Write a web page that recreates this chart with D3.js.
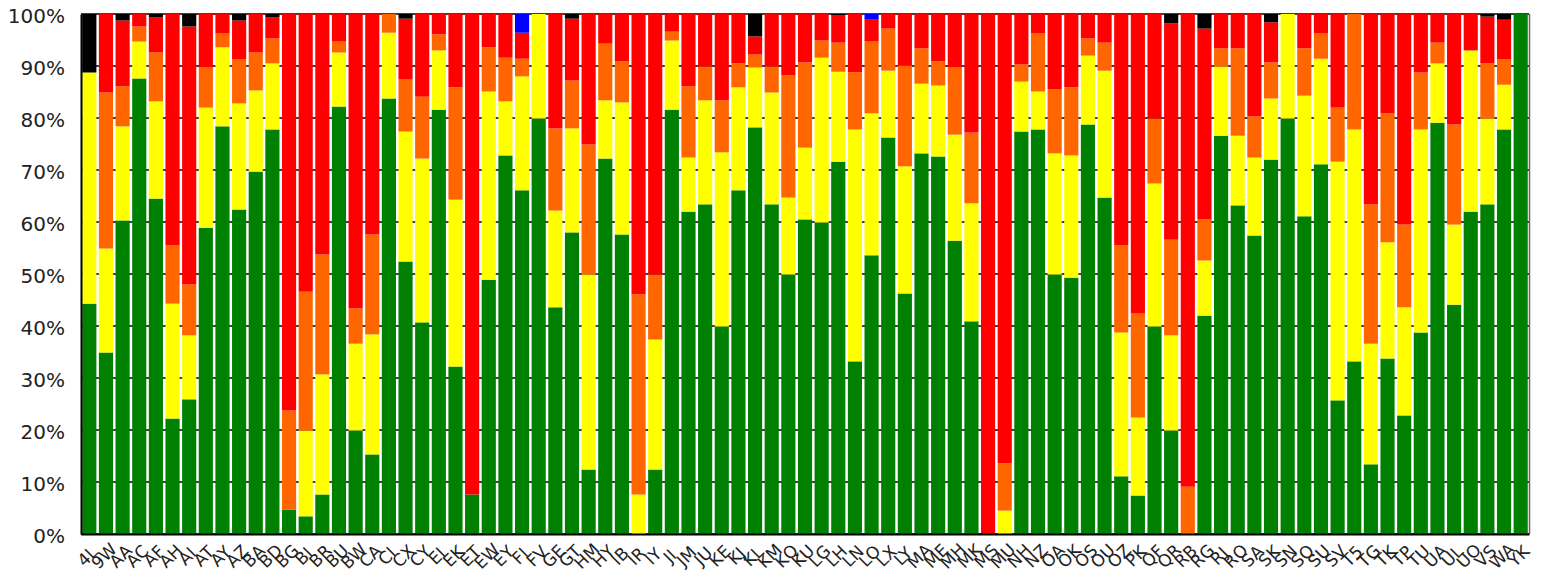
<!DOCTYPE html>
<html>
<head>
<meta charset="utf-8">
<script src="https://cdn.jsdelivr.net/npm/d3@7"></script>
<style>
  html, body { margin: 0; padding: 0; background: #fff; }
  svg { display: block; font-family: "DejaVu Sans", Verdana, sans-serif; }
</style>
</head>
<body>
<svg id="chart" width="1543" height="578"></svg>
<script>
const categories = ["4L","9W","AA","AC","AF","AH","AI","AT","AY","AZ","BA","BD","BG","BI","BR","BU","BW","CA","CI","CX","CY","EI","EK","ET","EW","EY","FI","FV","GE","GT","HM","HY","IB","IR","IY","JI","JM","JU","KE","KJ","KL","KM","KQ","KU","LG","LH","LN","LO","LX","LY","MA","ME","MH","MK","MS","MU","NH","NZ","OA","OK","OS","OU","OZ","PK","QF","QR","RB","RG","RJ","RO","SA","SK","SN","SQ","SU","SV","T5","TG","TK","TP","TU","UA","UL","UO","VS","WA","YK"];

const green  = [44.3,34.9,60.3,87.6,64.5,22.2,25.9,58.9,78.4,62.4,69.7,77.8,4.7,3.4,7.6,82.2,19.9,15.3,83.75,52.4,40.7,81.6,32.2,7.6,48.9,72.8,66.1,79.9,43.6,58.0,12.4,72.2,57.6,0,12.4,81.6,62.0,63.4,39.9,66.1,78.2,63.4,49.9,60.5,59.9,71.6,33.2,53.6,76.25,46.25,73.2,72.6,56.4,40.9,0,0,77.4,77.8,49.9,49.3,78.75,64.7,11.1,7.4,39.9,19.9,0,42.0,76.6,63.2,57.4,72.0,79.9,61.1,71.1,25.7,33.2,13.4,33.75,22.8,38.75,79.1,44.1,62.0,63.4,77.8,100];
const yellow = [44.45,20.0,18.1,7.1,18.7,22.1,12.3,23.1,15.2,20.4,15.6,12.7,0,16.5,23.1,10.4,16.7,23.1,12.65,25.0,31.5,11.4,32.1,0,36.2,10.4,21.9,20.1,18.6,20.0,37.5,11.2,25.4,7.6,25.0,13.3,10.4,20.0,33.5,19.8,11.5,21.5,14.8,13.8,31.7,17.3,44.6,27.3,12.85,24.45,13.4,13.65,20.4,22.7,0,4.5,9.6,7.3,23.3,23.5,13.25,24.4,27.65,15.0,27.5,18.3,0,10.6,13.3,13.4,15.0,11.75,20.1,23.2,20.3,45.9,44.6,23.2,22.35,20.8,39.05,11.4,15.4,31.0,16.5,8.6,0];
const orange = [0,30.0,7.7,2.9,9.4,11.2,9.8,7.7,2.65,8.45,7.3,4.8,19.05,26.7,23.05,2.1,6.8,19.2,3.6,10.0,11.9,3.1,21.6,0,8.5,8.4,3.4,0,15.8,9.2,25.0,10.9,7.9,38.5,12.5,1.7,13.7,6.5,10.0,4.6,2.5,5.0,23.5,16.4,3.3,5.6,11.0,13.8,8.1,19.4,6.8,4.65,12.9,13.6,0,9.1,3.3,11.15,12.3,13.1,3.3,5.4,16.75,20.0,12.5,18.4,9.1,7.9,3.5,16.8,7.9,6.95,0,9.1,4.85,10.4,22.2,26.8,24.8,15.9,10.95,4.0,19.25,0,10.6,4.85,0];
const red    = [0,15.1,12.65,2.4,6.8,44.5,49.6,10.3,3.75,7.5,7.4,4.1,76.25,53.4,46.25,5.3,56.6,42.4,0,11.7,15.9,3.9,14.1,92.4,6.4,8.4,5.0,0,22.0,11.9,25.1,5.7,9.1,53.9,50.1,3.4,13.9,10.1,16.6,9.5,3.5,10.1,11.8,9.3,5.1,5.2,11.2,4.2,2.8,9.9,6.6,9.1,10.3,22.8,100,86.4,9.7,3.75,14.5,14.1,4.7,5.5,44.5,57.6,20.1,41.6,90.9,36.7,6.6,6.6,19.7,7.7,0,6.6,3.75,18.0,0,36.6,19.1,40.5,11.25,5.5,21.25,7.0,9.0,7.65,0];
const blue   = [0,0,0,0,0,0,0,0,0,0,0,0,0,0,0,0,0,0,0,0,0,0,0,0,0,0,3.6,0,0,0,0,0,0,0,0,0,0,0,0,0,0,0,0,0,0,0,0,1.1,0,0,0,0,0,0,0,0,0,0,0,0,0,0,0,0,0,0,0,0,0,0,0,0,0,0,0,0,0,0,0,0,0,0,0,0,0,0,0];
const black  = [11.25,0,1.25,0,0.6,0,2.4,0,0,1.25,0,0.6,0,0,0,0,0,0,0,0.9,0,0,0,0,0,0,0,0,0,0.9,0,0,0,0,0,0,0,0,0,0,4.3,0,0,0,0,0.3,0,0,0,0,0,0,0,0,0,0,0,0,0,0,0,0,0,0,0,1.8,0,2.8,0,0,0,1.6,0,0,0,0,0,0,0,0,0,0,0,0,0.5,1.1,0];

const seriesKeys = ["green","yellow","orange","red","blue","black"];
const seriesColors = ["#008000","#ffff00","#ff6600","#ff0000","#0000ff","#000000"];
const yTicks = [0,10,20,30,40,50,60,70,80,90,100];

const W = 1543, H = 578;
const margin = {left: 81, right: 14, top: 14, bottom: 44};
const svg = d3.select("#chart");

const rows = categories.map((c, i) => ({
  cat: c, green: green[i], yellow: yellow[i], orange: orange[i],
  red: red[i], blue: blue[i], black: black[i]
}));

const stack = d3.stack().keys(seriesKeys).offset(d3.stackOffsetExpand);
const layers = stack(rows);

const x = d3.scaleBand().domain(categories)
  .range([margin.left, W - margin.right])
  .paddingInner(0.15).paddingOuter(0.075);
const y = d3.scaleLinear().domain([0, 1]).range([H - margin.bottom, margin.top]);

// grid lines (behind bars)
svg.append("g").selectAll("line").data(yTicks).join("line")
  .attr("x1", margin.left).attr("x2", W - margin.right)
  .attr("y1", d => y(d / 100)).attr("y2", d => y(d / 100))
  .attr("stroke", "#000").attr("stroke-width", 1.4);

// bars
svg.append("g").selectAll("g").data(layers).join("g")
  .attr("fill", (d, i) => seriesColors[i])
  .selectAll("rect").data(d => d).join("rect")
  .attr("x", d => x(d.data.cat))
  .attr("width", x.bandwidth())
  .attr("y", d => y(d[1]))
  .attr("height", d => Math.max(0, y(d[0]) - y(d[1])));

// right border
svg.append("line")
  .attr("x1", W - margin.right + 0.5).attr("x2", W - margin.right + 0.5)
  .attr("y1", margin.top).attr("y2", H - margin.bottom)
  .attr("stroke", "#666").attr("stroke-width", 1.5);

// y axis
const yAxis = d3.axisLeft(y).tickValues(yTicks.map(d => d / 100))
  .tickFormat(d => Math.round(d * 100) + "%").tickSize(0).tickPadding(16);
const gy = svg.append("g").attr("transform", `translate(${margin.left},0)`).call(yAxis);
gy.select(".domain").attr("stroke", "#000").attr("stroke-width", 2);
gy.selectAll("text").attr("font-size", 20).attr("fill", "#222")
  .attr("font-family", "DejaVu Sans, Verdana, sans-serif").attr("dy", "0.42em");

// x axis
const xAxis = d3.axisBottom(x).tickSize(0).tickPadding(0);
const gx = svg.append("g").attr("transform", `translate(0,${H - margin.bottom})`).call(xAxis);
gx.select(".domain").attr("stroke", "#000").attr("stroke-width", 2);
gx.selectAll("text")
  .attr("font-size", 17).attr("fill", "#222")
  .attr("font-family", "DejaVu Sans, Verdana, sans-serif")
  .attr("text-anchor", "middle")
  .attr("dy", null).attr("y", null)
  .attr("dominant-baseline", "central")
  .attr("transform", "translate(-2,22) rotate(-45)");
</script>
</body>
</html>
